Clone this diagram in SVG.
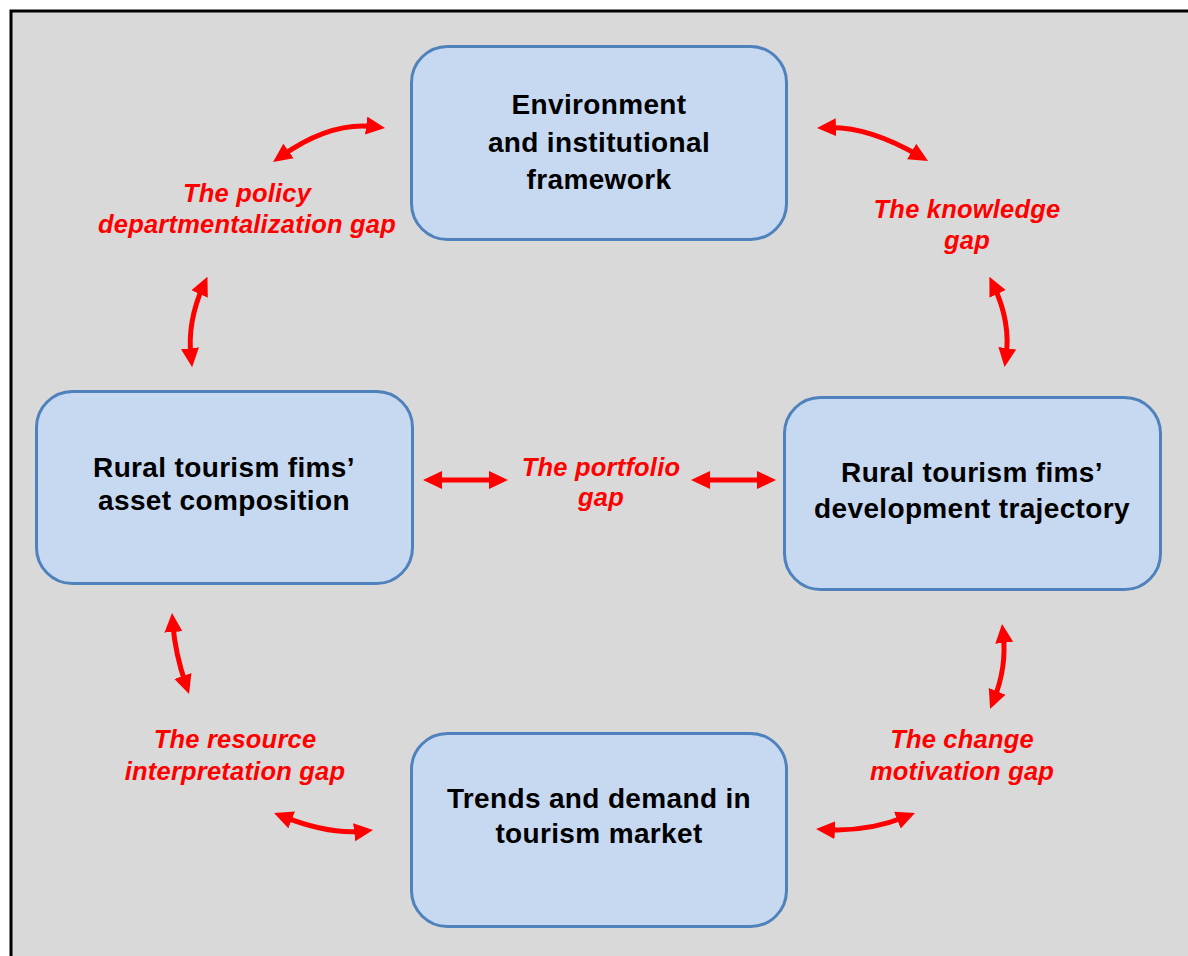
<svg xmlns="http://www.w3.org/2000/svg" width="1188" height="956" viewBox="0 0 1188 956">
<style>
.node{fill:#C6D9F1;stroke:#4F81BD;stroke-width:3}
.nt{font-family:"Liberation Sans",Arial,sans-serif;font-weight:bold;font-size:28px;letter-spacing:0.35px;fill:#000;text-anchor:middle}
.gap{font-family:"Liberation Sans",Arial,sans-serif;font-weight:bold;font-style:italic;font-size:25.5px;letter-spacing:0.2px;fill:#FF0000;text-anchor:middle}
.arr{fill:none;stroke:#FF0000;stroke-width:5;marker-start:url(#ah);marker-end:url(#ah)}
</style>
<defs>
<marker id="ah" markerUnits="userSpaceOnUse" markerWidth="20" markerHeight="20" viewBox="0 0 20 20" refX="9" refY="9" orient="auto-start-reverse">
<path d="M0,0 L19,9 L0,18 z" fill="#FF0000"/>
</marker>
</defs>
<rect x="0" y="0" width="1188" height="956" fill="#FFFFFF"/>
<rect x="11" y="11" width="1200" height="970" fill="#D9D9D9" stroke="#000" stroke-width="3"/>

<g id="node-environment">
<rect class="node" x="411.5" y="46.5" width="375" height="193" rx="36"/>
<text class="nt" x="599" y="114">Environment</text>
<text class="nt" x="599" y="152">and institutional</text>
<text class="nt" x="599" y="189">framework</text>
</g>
<g id="node-asset">
<rect class="node" x="36.5" y="391.5" width="376" height="192" rx="36"/>
<text class="nt" x="224" y="477">Rural tourism fims’</text>
<text class="nt" x="224" y="510">asset composition</text>
</g>
<g id="node-trajectory">
<rect class="node" x="784.5" y="397.5" width="376" height="192" rx="36"/>
<text class="nt" x="972" y="482">Rural tourism fims’</text>
<text class="nt" x="972" y="518">development trajectory</text>
</g>
<g id="node-market">
<rect class="node" x="411.5" y="733.5" width="375" height="193" rx="36"/>
<text class="nt" x="599" y="808">Trends and demand in</text>
<text class="nt" x="599" y="843">tourism market</text>
</g>

<g id="gap-labels">
<text class="gap" x="247" y="202">The policy</text>
<text class="gap" x="247" y="233">departmentalization gap</text>
<text class="gap" x="967" y="218">The knowledge</text>
<text class="gap" x="967" y="249">gap</text>
<text class="gap" x="601" y="476">The portfolio</text>
<text class="gap" x="601" y="506">gap</text>
<text class="gap" x="235" y="748">The resource</text>
<text class="gap" x="235" y="780">interpretation gap</text>
<text class="gap" x="962" y="748">The change</text>
<text class="gap" x="962" y="780">motivation gap</text>
</g>

<g id="connectors">
<path class="arr" d="M281.2,156.2 Q331,121 375.1,126.7"/>
<path class="arr" d="M827,127.6 Q868,126 919.4,156"/>
<path class="arr" d="M993.7,285.8 Q1011,322 1006,357.2"/>
<path class="arr" d="M203.3,285.8 Q187,322 191,357.2"/>
<path class="arr" d="M433,480 L498,480"/>
<path class="arr" d="M701,480 L766,480"/>
<path class="arr" d="M172.75,623 Q175,653 185.8,684.5"/>
<path class="arr" d="M283.3,816.7 Q330,835 363.1,831.2"/>
<path class="arr" d="M1003.2,633.9 Q1007,667 993.8,699.7"/>
<path class="arr" d="M826,829.6 Q868,832 905.7,816.8"/>
</g>
</svg>
